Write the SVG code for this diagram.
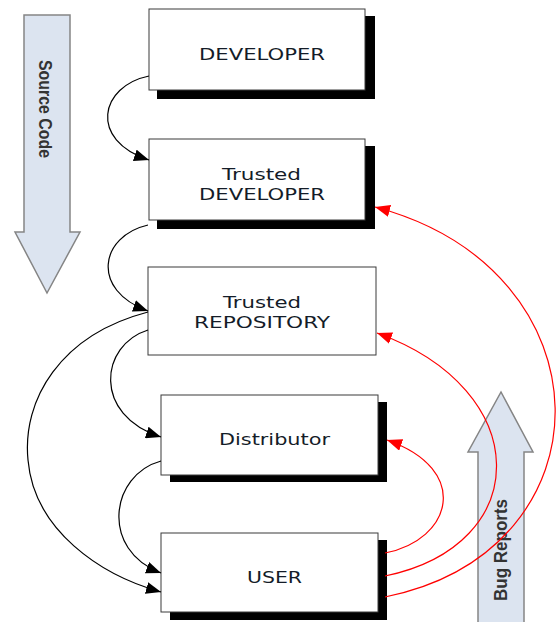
<svg xmlns="http://www.w3.org/2000/svg" width="556" height="622" viewBox="0 0 556 622">
  <style>
    .box { fill: #ffffff; stroke: #3a3a3a; stroke-width: 1; }
    .shadow { fill: #000000; }
    .label { font-family: "DejaVu Sans", Verdana, sans-serif; font-size: 16px; fill: #141c28; }
    .flow { fill: none; stroke: #000000; stroke-width: 1.2; }
    .bug { fill: none; stroke: #ff0000; stroke-width: 1.2; }
    .band { fill: #dce4f0; stroke: #858585; stroke-width: 1.5; }
    .bandtext { font-family: "Liberation Sans", Arial, sans-serif; font-size: 18px; font-weight: bold; fill: #333333; }
  </style>
  <defs>
    <marker id="headBlack" markerUnits="userSpaceOnUse" markerWidth="16" markerHeight="12" refX="15" refY="6" orient="auto">
      <path d="M0,0 L15,6 L0,12 Z" fill="#000000"/>
    </marker>
    <marker id="headRed" markerUnits="userSpaceOnUse" markerWidth="16" markerHeight="12" refX="15" refY="6" orient="auto">
      <path d="M0,0 L15,6 L0,12 Z" fill="#ff0000"/>
    </marker>
  </defs>

  <!-- Direction bands -->
  <g id="source-code">
    <path class="band" d="M24,15 L70,15 L70,232 L80,232 L47,293 L15,232 L24,232 Z"/>
    <text class="bandtext" transform="translate(39,60) rotate(90)" textLength="98" lengthAdjust="spacingAndGlyphs">Source Code</text>
  </g>
  <g id="bug-reports">
    <path class="band" d="M478,626 L478,452 L468,452 L501,392 L533,452 L524,452 L524,626 Z"/>
    <text class="bandtext" transform="translate(507,601) rotate(-90)" textLength="102" lengthAdjust="spacingAndGlyphs">Bug Reports</text>
  </g>

  <!-- Nodes -->
  <g id="developer">
    <rect class="shadow" x="157" y="16" width="218" height="83"/>
    <rect class="box" x="149" y="9" width="216" height="81"/>
    <text class="label" x="199" y="60" textLength="126" lengthAdjust="spacingAndGlyphs">DEVELOPER</text>
  </g>
  <g id="trusted-developer">
    <rect class="shadow" x="157" y="146" width="218" height="83"/>
    <rect class="box" x="149" y="139" width="216" height="81"/>
    <text class="label" x="222" y="180" textLength="79" lengthAdjust="spacingAndGlyphs">Trusted</text>
    <text class="label" x="199" y="200" textLength="126" lengthAdjust="spacingAndGlyphs">DEVELOPER</text>
  </g>
  <g id="trusted-repository">
    <rect class="box" x="148" y="267" width="228" height="88"/>
    <text class="label" x="223" y="308" textLength="78" lengthAdjust="spacingAndGlyphs">Trusted</text>
    <text class="label" x="194" y="328" textLength="136" lengthAdjust="spacingAndGlyphs">REPOSITORY</text>
  </g>
  <g id="distributor">
    <rect class="shadow" x="170" y="402" width="217" height="80"/>
    <rect class="box" x="161" y="395" width="217" height="80"/>
    <text class="label" x="219" y="445" textLength="111" lengthAdjust="spacingAndGlyphs">Distributor</text>
  </g>
  <g id="user">
    <rect class="shadow" x="170" y="540" width="217" height="80"/>
    <rect class="box" x="161" y="533" width="217" height="79"/>
    <text class="label" x="247" y="583" textLength="55" lengthAdjust="spacingAndGlyphs">USER</text>
  </g>

  <!-- Connectors -->
  <g id="connectors">
    <path class="flow" marker-end="url(#headBlack)" d="M149,76 C100,86 88,140 149,160"/>
    <path class="flow" marker-end="url(#headBlack)" d="M148,225 C100,236 90,290 148,311"/>
    <path class="flow" marker-end="url(#headBlack)" d="M148,312 C60,335 22,400 28,460 C34,530 100,575 161,592"/>
    <path class="flow" marker-end="url(#headBlack)" d="M148,330 C100,345 92,415 161,437"/>
    <path class="flow" marker-end="url(#headBlack)" d="M161,461 C110,475 100,550 161,573"/>

    <path class="bug" marker-end="url(#headRed)" d="M385,553 C452,540 472,470 387,440"/>
    <path class="bug" marker-end="url(#headRed)" d="M385,576 C535,545 535,390 377,333"/>
    <path class="bug" marker-end="url(#headRed)" d="M385,597 C615,550 612,270 375,207"/>
  </g>
</svg>
